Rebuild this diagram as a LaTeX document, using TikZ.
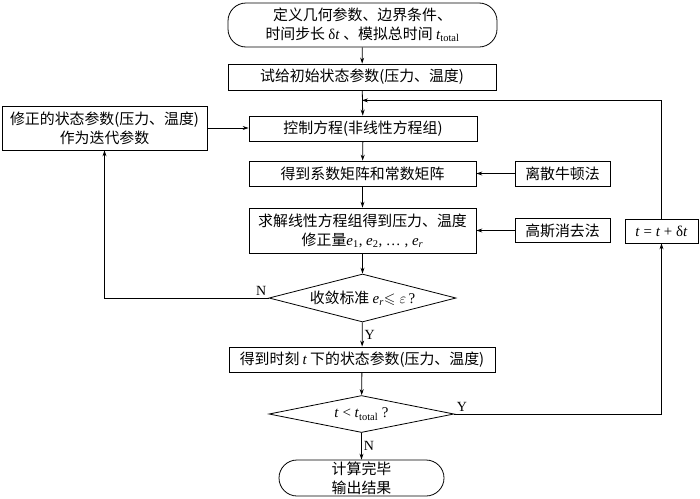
\documentclass[tikz,border=0pt]{standalone}
\usepackage{fontspec}
\usepackage{amssymb}
\setmainfont{Noto Sans CJK SC}
\newfontfamily\tn{Liberation Serif}
\usetikzlibrary{shapes.geometric,arrows.meta}
\newcommand\vi[1]{{\tn\itshape #1}}
\newcommand\vsub[2]{{\tn\textit{#1}\textsubscript{#2}}}
\begin{document}
\begin{tikzpicture}[x=1pt,y=-1pt, line width=0.8pt,
  >={Stealth[length=6pt,width=4pt]},
  txt/.style={font=\fontsize{14.9}{19}\selectfont},
  box/.style={draw, rectangle, inner sep=0pt, align=center, txt},
  term/.style={box, rounded corners=18pt},
  dec/.style={draw, diamond, inner sep=0pt, align=center, txt},
  lbl/.style={font=\tn\fontsize{14}{16}\selectfont, inner sep=2pt}]
\useasboundingbox (0,0) rectangle (700,498);

\node[term, minimum width=269pt, minimum height=44pt] (start) at (362.5,25)
  {定义几何参数、边界条件、\\时间步长 {\tn δ\textit{t}} 、模拟总时间 \vsub{t}{total}};
\node[box, minimum width=268pt, minimum height=26pt] (init) at (362,77)
  {试给初始状态参数(压力、温度)};
\node[box, minimum width=228pt, minimum height=25pt] (ctrl) at (363,128.5)
  {控制方程(非线性方程组)};
\node[box, minimum width=227pt, minimum height=25pt] (coef) at (362.5,173.5)
  {得到系数矩阵和常数矩阵};
\node[box, minimum width=227pt, minimum height=45pt] (solve) at (362.5,230.5)
  {求解线性方程组得到压力、温度\\修正量\vsub{e}{1}{\tn, }\vsub{e}{2}{\tn, … , }\vsub{e}{\textit{r}}};
\node[dec, minimum width=187pt, minimum height=48pt, aspect=3.9] (conv) at (362.5,298)
  {收敛标准 \vsub{e}{\textit{r}}$\leqslant\varepsilon$\,{\tn ?}};
\node[box, minimum width=266pt, minimum height=25pt] (state) at (362,359.5)
  {得到时刻 \vi{t} 下的状态参数(压力、温度)};
\node[dec, minimum width=185pt, minimum height=37pt, aspect=5] (tcheck) at (361.5,414)
  {{\tn\textit{t} < \textit{t}\textsubscript{total} ?}};
\node[term, minimum width=165pt, minimum height=36pt] (end) at (361.5,478)
  {计算完毕\\输出结果};
\node[box, minimum width=205pt, minimum height=44pt] (fix) at (104.5,128)
  {修正的状态参数(压力、温度)\\作为迭代参数};
\node[box, minimum width=95pt, minimum height=25pt] (newton) at (562.5,173.5)
  {离散牛顿法};
\node[box, minimum width=95pt, minimum height=24pt] (gauss) at (562.5,230.5)
  {高斯消去法};
\node[box, minimum width=73pt, minimum height=24pt] (tstep) at (661.5,231)
  {{\tn\textit{t} = \textit{t} + δ\textit{t}}};

\path (init.south) ++(0,10) coordinate (fb);
\coordinate (nl) at (104.5,298);

\draw[->] (start) -- (init);
\draw[->] (init) -- (ctrl);
\draw[->] (tstep.north) |- (fb);
\draw[->] (fix.east) -- (fix.east -| ctrl.west);
\draw[->] (ctrl) -- (coef);
\draw[->] (coef) -- (solve);
\draw[->] (solve) -- (conv);
\draw[->] (newton) -- (coef);
\draw[->] (gauss) -- (solve);
\draw[->] (conv.west) -- (nl) -- (fix.south);
\node[lbl, above left] (nlab) at (conv.west) {N};
\draw[->] (conv) -- node[lbl, right] (ylab) {Y} (state);
\draw[->] (state) -- (tcheck);
\draw[->] (tcheck.east) -| (tstep.south);
\node[lbl, above right] (ylab2) at (tcheck.east) {Y};
\draw[->] (tcheck) -- node[lbl, right] (nlab2) {N} (end);
\end{tikzpicture}
\end{document}
